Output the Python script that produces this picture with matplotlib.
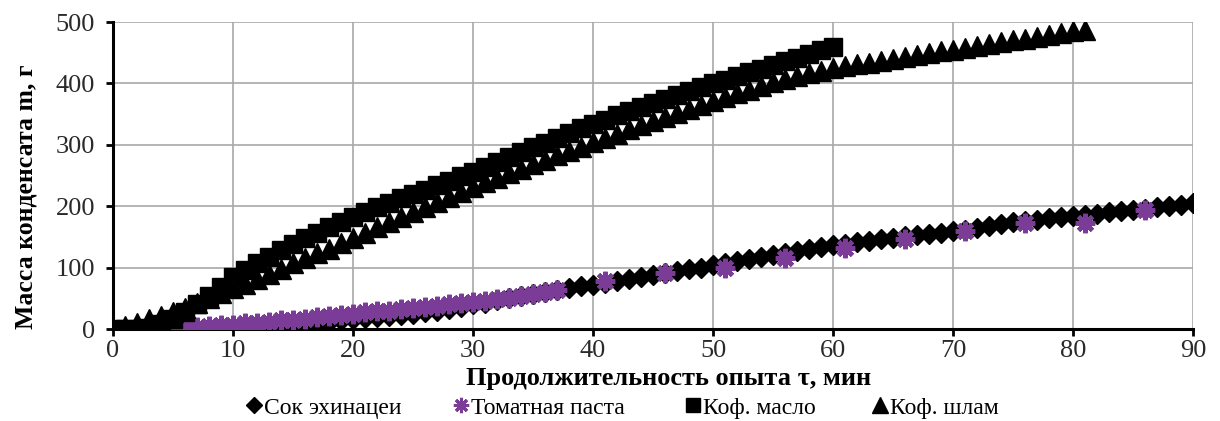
import matplotlib
matplotlib.use("Agg")
import matplotlib.pyplot as plt
from matplotlib.lines import Line2D

plt.rcParams['font.family'] = ['Liberation Serif', 'DejaVu Serif']

# ---- data ----
juice_x = list(range(0, 91))
juice_y = [0, 0, 0, 0, 0, 0, 0, 0, 0, 1, 1, 2, 3, 4, 5, 7, 9, 10, 12, 14,
           16, 18, 19, 21, 23, 25, 27, 30, 33, 36, 40, 43, 47, 50, 54, 57, 61, 64, 67, 70,
           72, 75, 78, 82, 85, 88, 91, 94, 97, 100, 104, 107, 110, 114, 117, 120, 124, 127, 130, 134,
           137, 139, 142, 144, 146, 148, 151, 153, 155, 157, 159, 162, 165, 168, 171, 174, 176, 178, 180, 182,
           184, 186, 188, 190, 192, 194, 196, 198, 200, 202, 205]

tomato_x = list(range(3, 38)) + [41, 46, 51, 56, 61, 66, 71, 76, 81, 86]
tomato_y = [0, 1, 2, 3, 4, 5, 6, 7, 9, 10, 12, 14, 15, 17, 19, 21, 23, 25, 27, 29,
            30, 32, 34, 36, 38, 40, 42, 44, 46, 49, 51, 54, 57, 60, 63,
            78, 92, 100, 116, 132, 147, 160, 172, 173, 194]

oil_x = list(range(0, 61))
oil_y = [0, 0, 0, 2, 8, 16, 27, 40, 54, 69,
         84, 96, 107, 118, 129, 139, 148, 157, 166, 174,
         182, 190, 198, 205, 213, 220, 227, 234, 241, 249,
         256, 264, 272, 280, 288, 296, 303, 311, 319, 327,
         334, 341, 348, 355, 361, 368, 374, 381, 387, 394,
         400, 406, 412, 418, 424, 430, 436, 442, 448, 454, 460]

sludge_x = list(range(0, 82))
sludge_y = [0, 5, 10, 16, 22, 28, 35, 42, 50, 58,
            66, 74, 82, 90, 98, 107, 115, 123, 131, 140,
            148, 157, 166, 174, 183, 191, 199, 207, 215, 223,
            231, 239, 246, 254, 261, 268, 276, 283, 290, 297,
            304, 311, 318, 325, 332, 339, 346, 352, 359, 365,
            372, 378, 384, 390, 396, 402, 407, 412, 417, 421,
            425, 428, 431, 434, 437, 440, 443, 446, 449, 452,
            455, 458, 461, 464, 467, 470, 473, 476, 479, 482, 485, 487]

labels = ['Сок эхинацеи', 'Томатная паста', 'Коф. масло', 'Коф. шлам']
xticks = [0, 10, 20, 30, 40, 50, 60, 70, 80, 90]
yticks = [0, 100, 200, 300, 400, 500]
x_label = 'Продолжительность опыта τ, мин'
y_label = 'Масса конденсата m, г'

# ---- figure ----
W, H = 1220, 421
fig = plt.figure(figsize=(W / 100, H / 100), dpi=100)
ax = fig.add_axes([0.0926, 0.2185, 0.978 - 0.0926, 0.9477 - 0.2185])

purple = '#7A3C96'
star = (8, 2, 0)
ax.plot(juice_x, juice_y, linestyle='none', marker='D', markersize=10,
        color='black', zorder=3)
ax.plot(tomato_x, tomato_y, linestyle='none', marker=star, markersize=14,
        markeredgewidth=3.2, color=purple, zorder=4)
ax.plot(oil_x, oil_y, linestyle='none', marker='s', markersize=12.5,
        color='black', zorder=5)
ax.plot(sludge_x, sludge_y, linestyle='none', marker='^', markersize=14,
        color='black', zorder=6)

ax.set_xlim(0, 90)
ax.set_ylim(0, 500)
ax.set_xticks(xticks)
ax.set_yticks(yticks)
ax.grid(True, color='#a8a8a8', linewidth=1.2)
ax.set_axisbelow(True)
for s in ['top', 'right']:
    ax.spines[s].set_visible(False)
for s in ['left', 'bottom']:
    ax.spines[s].set_linewidth(2.2)
    ax.spines[s].set_color('black')
    ax.spines[s].set_zorder(2)
ax.tick_params(axis='both', direction='out', length=5, width=2, labelsize=19,
               labelcolor='#2a2a2a')
ax.tick_params(axis='x', pad=3)
ax.tick_params(axis='y', pad=8)

fig.text(0.548, 0.100, x_label, fontsize=19, fontweight='bold',
         ha='center', va='center')
fig.text(0.021, 0.532, y_label, fontsize=18.5, fontweight='bold',
         ha='center', va='center', rotation=90)

handles = [
    Line2D([], [], linestyle='none', marker='D', markersize=8, color='black'),
    Line2D([], [], linestyle='none', marker=star, markersize=11,
           markeredgewidth=2.2, color=purple),
    Line2D([], [], linestyle='none', marker='s', markersize=10, color='black'),
    Line2D([], [], linestyle='none', marker='^', markersize=11, color='black'),
]
marker_px = [254, 461, 693, 880]
for h, lab, mx in zip(handles, labels, marker_px):
    fig.legend([h], [lab], loc='center left',
               bbox_to_anchor=((mx - 7) / W, 0.031),
               frameon=False, fontsize=17, handlelength=0.6,
               handletextpad=0.1, borderpad=0, borderaxespad=0)

fig.savefig('out.png', dpi=100)
